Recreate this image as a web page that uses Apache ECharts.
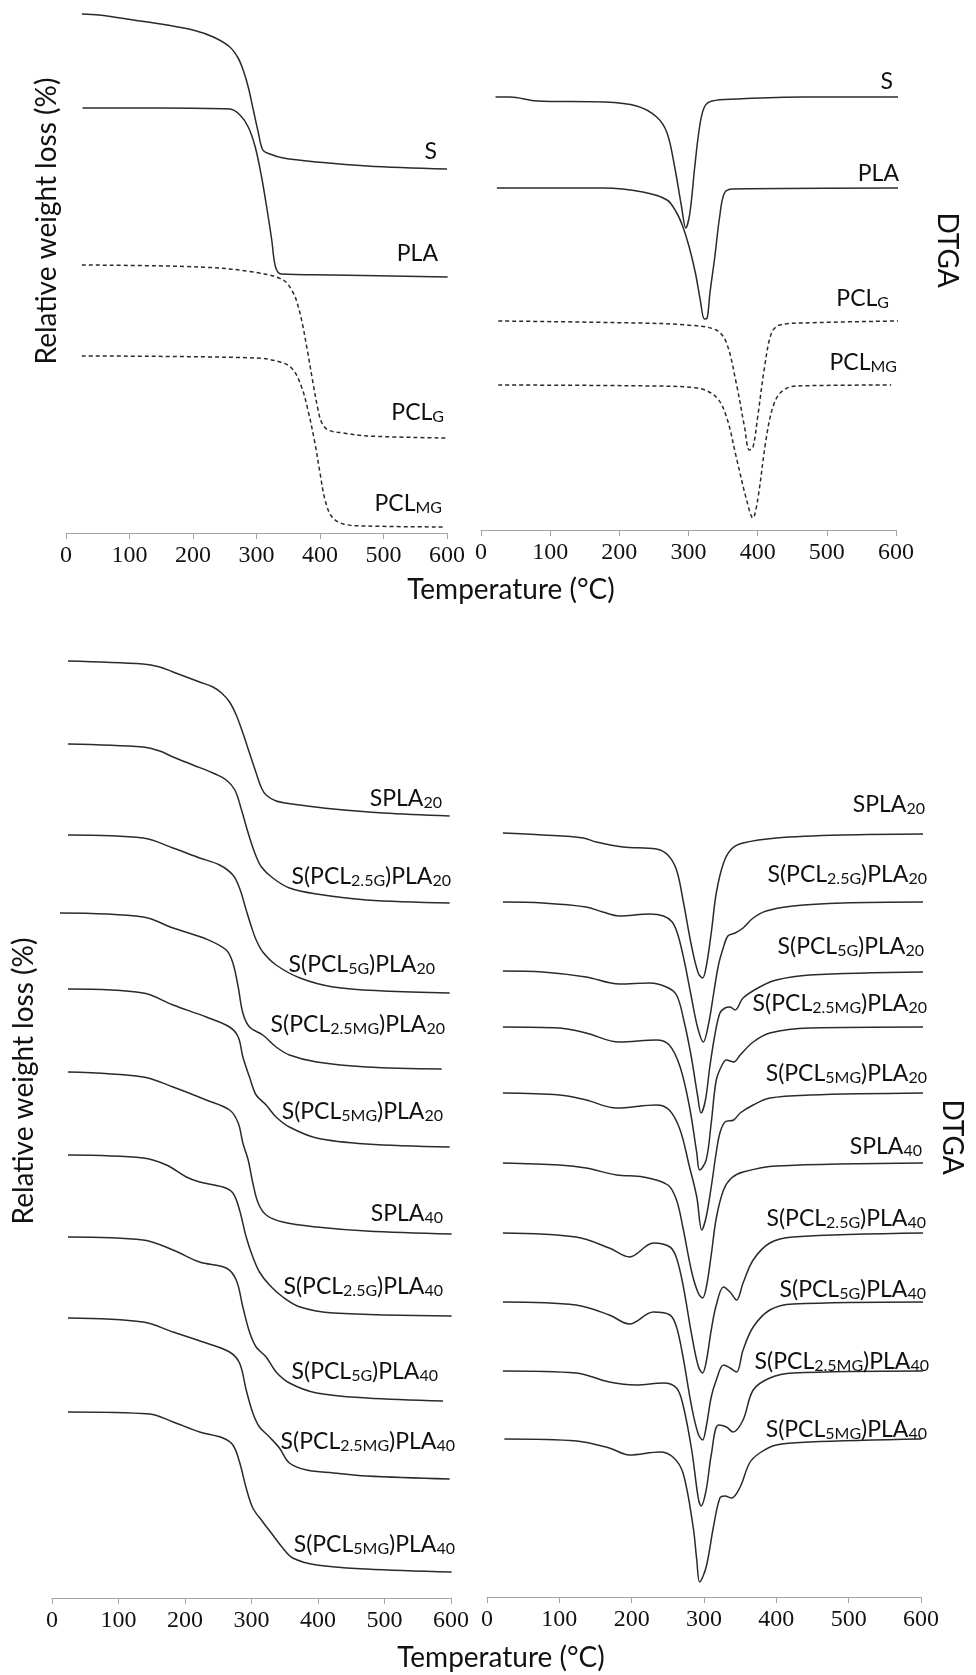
<!DOCTYPE html>
<html>
<head>
<meta charset="utf-8">
<script src="https://cdn.jsdelivr.net/npm/echarts@6/dist/echarts.min.js"></script>
<style>
html,body{margin:0;padding:0;background:#fff}
#chart{width:976px;height:1675px}
</style>
</head>
<body>
<div id="chart"></div>
<script>
// Temperature scale (°C) shared by all four panels
const TEMP_MIN = 0, TEMP_MAX = 600, TEMP_STEP = 100;

// ---- Upper left: TGA of the neat components, [T °C, stacked signal] ----
const TGA_S = [[25,519],[52,518],[106,513],[159,508],[200,503],[232,496],[258,486],[271,475],[279,463],[287,446],[295,423],[303,400],[310,383],[321,379],[342,375],[395,371],[474,367],[600,364]];
const TGA_PLA = [[26,425],[150,425],[258,424],[274,418],[287,406],[298,386],[308,356],[316,326],[324,293],[330,266],[339,259],[420,258],[601,256]];
const TGA_PCLG = [[25,268],[211,266],[295,261],[342,253],[358,240],[365,228],[372,210],[380,183],[389,150],[397,123],[403,110],[413,103],[437,100],[474,97],[600,95]];
const TGA_PCLMG = [[25,177],[300,175],[342,170],[358,163],[371,146],[381,123],[392,90],[400,60],[408,33],[419,16],[437,9],[474,7],[597,6]];

// ---- Upper right: DTGA of the neat components ----
const DTG_S = [[21,433],[42,433],[81,429],[177,428],[225,424],[254,413],[269,397],[280,363],[290,323],[296,302],[302,317],[309,363],[316,403],[323,423],[334,429],[369,431],[465,433],[603,433]];
const DTG_PLA = [[23,342],[177,342],[234,338],[269,330],[283,317],[292,303],[301,283],[310,257],[317,230],[323,211],[327,212],[331,237],[338,273],[345,313],[352,337],[364,341],[606,342]];
const DTG_PCLG = [[25,209],[225,207],[297,205],[340,200],[355,187],[369,147],[381,103],[388,80],[393,82],[400,113],[410,163],[420,197],[432,205],[465,207],[603,209]];
const DTG_PCLMG = [[25,145],[249,144],[312,142],[340,133],[355,113],[369,73],[384,30],[393,12],[400,30],[412,90],[422,123],[434,138],[455,144],[593,145]];

// ---- Lower left: TGA of the blends ----
const TGA_SPLA20 = [[24,937],[137,934],[162,931],[182,926],[202,921],[222,916],[242,911],[255,905],[267,896],[277,883],[287,865],[297,845],[307,825],[315,810],[322,803],[337,797],[373,793],[423,789],[498,785],[598,782]];
const TGA_S_PCL25G_PLA20 = [[24,854],[137,851],[162,847],[182,841],[212,833],[242,825],[262,818],[275,808],[285,788],[295,765],[305,745],[315,731],[332,720],[357,710],[398,704],[473,698],[598,695]];
const TGA_S_PCL5G_PLA20 = [[24,763],[137,760],[182,750],[222,740],[252,733],[272,723],[282,710],[292,688],[300,671],[307,658],[317,646],[337,633],[373,620],[423,611],[498,607],[598,605]];
const TGA_S_PCL25MG_PLA20 = [[12,685],[137,681],[182,670],[232,659],[262,648],[272,635],[280,611],[287,585],[297,571],[317,563],[337,551],[357,543],[398,536],[473,531],[586,529]];
const TGA_S_PCL5MG_PLA20 = [[24,609],[137,605],[182,593],[232,581],[267,571],[280,561],[287,541],[297,521],[307,503],[322,493],[337,481],[357,471],[398,460],[473,454],[598,451]];
const TGA_SPLA40 = [[24,526],[137,521],[182,511],[232,498],[267,488],[280,475],[287,455],[295,438],[302,415],[310,395],[322,383],[347,376],[398,371],[473,367],[601,364]];
const TGA_S_PCL25G_PLA40 = [[24,443],[137,440],[172,433],[202,421],[222,416],[257,411],[272,405],[282,388],[292,361],[302,341],[312,326],[327,313],[347,301],[373,291],[423,285],[601,282]];
const TGA_S_PCL5G_PLA40 = [[24,361],[137,358],[182,348],[222,336],[262,330],[277,318],[287,291],[297,266],[307,251],[322,241],[337,226],[357,215],[398,205],[473,200],[588,197]];
const TGA_S_PCL25MG_PLA40 = [[24,280],[137,276],[182,266],[232,255],[267,246],[282,235],[292,208],[302,185],[312,171],[327,161],[342,150],[357,135],[383,128],[423,125],[473,122],[598,119]];
const TGA_S_PCL5MG_PLA40 = [[24,186],[147,184],[182,176],[222,166],[257,160],[272,153],[282,136],[292,110],[302,90],[317,76],[332,63],[347,50],[362,40],[398,33],[473,29],[601,26]];

// ---- Lower right: DTGA of the blends ----
const DTG_SPLA20 = [[22,764],[77,762],[133,759],[151,755],[188,750],[234,748],[250,742],[262,727],[271,697],[283,650],[292,624],[298,619],[303,630],[310,664],[317,704],[327,734],[338,748],[354,754],[400,759],[492,762],[606,763]];
const DTG_S_PCL25G_PLA20 = [[22,695],[77,694],[137,690],[160,685],[183,681],[225,683],[244,681],[256,675],[264,662],[273,635],[282,602],[291,570],[299,555],[306,572],[313,602],[320,632],[327,650],[333,661],[343,664],[354,669],[368,679],[386,686],[423,691],[492,694],[606,695]];
const DTG_S_PCL5G_PLA20 = [[22,626],[77,625],[137,620],[183,613],[225,614],[248,610],[262,602],[272,577],[282,542],[291,502],[296,484],[302,497],[308,530],[315,562],[322,584],[329,589],[336,590],[343,587],[354,599],[377,610],[400,617],[446,622],[606,625]];
const DTG_S_PCL25MG_PLA20 = [[22,570],[100,569],[137,564],[183,555],[234,557],[252,552],[267,530],[280,490],[290,444],[294,427],[303,437],[310,474],[317,517],[325,532],[331,537],[341,535],[350,542],[368,555],[391,564],[446,569],[608,570]];
const DTG_S_PCL5MG_PLA20 = [[22,504],[100,502],[137,497],[179,489],[234,492],[252,487],[267,467],[280,430],[290,400],[297,367],[303,380],[310,410],[317,445],[322,464],[329,475],[341,477],[350,484],[368,492],[391,499],[446,502],[608,504]];
const DTG_SPLA40 = [[22,434],[100,432],[137,429],[179,422],[216,420],[250,412],[262,397],[271,369],[283,325],[292,304],[298,299],[303,309],[310,342],[317,379],[327,407],[338,419],[354,425],[400,431],[608,434]];
const DTG_S_PCL25G_PLA40 = [[22,364],[123,360],[169,349],[197,340],[230,354],[253,350],[262,339],[271,312],[283,262],[292,231],[298,224],[303,235],[310,267],[317,292],[327,310],[336,305],[345,297],[354,314],[368,337],[391,354],[423,360],[608,364]];
const DTG_S_PCL5G_PLA40 = [[22,295],[123,292],[169,282],[197,273],[230,285],[253,282],[262,270],[271,240],[283,190],[292,163],[298,157],[303,170],[310,200],[317,217],[327,232],[336,229],[345,225],[354,247],[368,270],[391,287],[423,293],[608,295]];
const DTG_S_PCL25MG_PLA40 = [[22,226],[123,224],[169,215],[206,212],[244,214],[262,209],[271,192],[283,147],[292,99],[296,91],[303,107],[310,142],[320,172],[331,170],[340,165],[354,177],[368,207],[391,219],[423,224],[608,226]];
const DTG_S_PCL5MG_PLA40 = [[24,158],[124,156],[169,149],[197,142],[239,145],[257,140],[271,124],[285,70],[290,37],[294,15],[303,30],[313,70],[322,99],[329,101],[338,99],[350,110],[363,134],[377,144],[400,152],[446,155],[601,158]];

// Curve names (text after "_" in braces is set as subscript)
const NAMES_TOP = ['S', 'PLA', 'PCL_{G}', 'PCL_{MG}'];
const NAMES_BLENDS = ['SPLA_{20}', 'S(PCL_{2.5G})PLA_{20}', 'S(PCL_{5G})PLA_{20}', 'S(PCL_{2.5MG})PLA_{20}', 'S(PCL_{5MG})PLA_{20}',
  'SPLA_{40}', 'S(PCL_{2.5G})PLA_{40}', 'S(PCL_{5G})PLA_{40}', 'S(PCL_{2.5MG})PLA_{40}', 'S(PCL_{5MG})PLA_{40}'];

// Panel layout: grid boxes (px) and vertical extent of the stacked signal
const PANELS = [
  {left: 66,  top: 0,   width: 381, height: 533, ymax: 533},
  {left: 481, top: 0,   width: 415, height: 530, ymax: 530},
  {left: 52,  top: 598, width: 399, height: 1000, ymax: 1000},
  {left: 487, top: 597, width: 434, height: 1000, ymax: 1000}
];
// Label placement relative to each curve's right end at 600 °C: [dx, dy] px
const OFFSETS_TL = [[-10,-19],[-9,-25],[-3,-27],[-5,-25]];
const OFFSETS_TR = [[-3,-17],[3,-16],[-7,-24],[1,-24]];
const OFFSETS_BL = [[-9,-19],[0,-28],[-16,-30],[-6,-46],[-8,-37],[-8,-22],[-8,-31],[-13,-31],[4,-39],[4,-29]];
const OFFSETS_BR = [[4,-31],[6,-29],[3,-27],[6,-25],[6,-21],[1,-18],[5,-16],[5,-14],[8,-11],[6,-11]];

const INK = '#2a2a2a';
const AXIS_GREY = '#a6a6a6';
const TEXT_FONT = 'Lato, "Open Sans", sans-serif';

const RICH = {
  m: {fontFamily: TEXT_FONT, fontSize: 23, color: '#111', lineHeight: 27, verticalAlign: 'bottom'},
  s: {fontFamily: TEXT_FONT, fontSize: 16, color: '#111', lineHeight: 20, verticalAlign: 'bottom'}
};

function richText(name) {
  return name.split(/(_\{[^}]*\})/).filter(Boolean)
    .map(p => p.startsWith('_{') ? '{s|' + p.slice(2, -1) + '}' : '{m|' + p + '}')
    .join('');
}

function curve(panel, data, name, dashed, off) {
  const last = data[data.length - 1];
  return {
    type: 'line',
    name: name,
    xAxisIndex: panel,
    yAxisIndex: panel,
    data: data,
    symbol: 'none',
    showSymbol: false,
    smooth: 0.35,
    clip: false,
    silent: true,
    animation: false,
    lineStyle: {color: INK, width: 1.5, type: dashed ? [4, 3] : 'solid'},
    markPoint: {
      symbol: 'circle',
      symbolSize: 0.1,
      silent: true,
      animation: false,
      itemStyle: {color: 'rgba(0,0,0,0)'},
      data: [{
        coord: [TEMP_MAX, last[1]],
        label: {
          show: true, position: 'inside', align: 'right', verticalAlign: 'middle',
          offset: off, formatter: richText(name), rich: RICH
        }
      }]
    }
  };
}

const series = [
  curve(0, TGA_S, NAMES_TOP[0], false, OFFSETS_TL[0]),
  curve(0, TGA_PLA, NAMES_TOP[1], false, OFFSETS_TL[1]),
  curve(0, TGA_PCLG, NAMES_TOP[2], true, OFFSETS_TL[2]),
  curve(0, TGA_PCLMG, NAMES_TOP[3], true, OFFSETS_TL[3]),
  curve(1, DTG_S, NAMES_TOP[0], false, OFFSETS_TR[0]),
  curve(1, DTG_PLA, NAMES_TOP[1], false, OFFSETS_TR[1]),
  curve(1, DTG_PCLG, NAMES_TOP[2], true, OFFSETS_TR[2]),
  curve(1, DTG_PCLMG, NAMES_TOP[3], true, OFFSETS_TR[3])
];
const TGA_BLENDS = [TGA_SPLA20, TGA_S_PCL25G_PLA20, TGA_S_PCL5G_PLA20, TGA_S_PCL25MG_PLA20, TGA_S_PCL5MG_PLA20,
  TGA_SPLA40, TGA_S_PCL25G_PLA40, TGA_S_PCL5G_PLA40, TGA_S_PCL25MG_PLA40, TGA_S_PCL5MG_PLA40];
const DTG_BLENDS = [DTG_SPLA20, DTG_S_PCL25G_PLA20, DTG_S_PCL5G_PLA20, DTG_S_PCL25MG_PLA20, DTG_S_PCL5MG_PLA20,
  DTG_SPLA40, DTG_S_PCL25G_PLA40, DTG_S_PCL5G_PLA40, DTG_S_PCL25MG_PLA40, DTG_S_PCL5MG_PLA40];
TGA_BLENDS.forEach((d, i) => series.push(curve(2, d, NAMES_BLENDS[i], false, OFFSETS_BL[i])));
DTG_BLENDS.forEach((d, i) => series.push(curve(3, d, NAMES_BLENDS[i], false, OFFSETS_BR[i])));

const grid = PANELS.map(p => ({left: p.left, top: p.top, width: p.width, height: p.height, containLabel: false}));
const xAxis = PANELS.map((p, i) => ({
  gridIndex: i, type: 'value', min: TEMP_MIN, max: TEMP_MAX, interval: TEMP_STEP,
  axisLine: {show: true, onZero: false, lineStyle: {color: AXIS_GREY, width: 1}},
  axisTick: {show: true, inside: false, length: 6, lineStyle: {color: AXIS_GREY, width: 1}},
  axisLabel: {show: true, margin: 11, color: '#111', fontFamily: '"Liberation Serif", "Times New Roman", serif', fontSize: 24},
  splitLine: {show: false}
}));
const yAxis = PANELS.map((p, i) => ({gridIndex: i, type: 'value', min: 0, max: p.ymax, show: false}));

function title(text, x, y, rot) {
  return {
    type: 'text', x: x, y: y, rotation: rot, silent: true,
    style: {text: text, fontFamily: TEXT_FONT, fontSize: 28, fill: '#111', align: 'center', verticalAlign: 'middle'}
  };
}

const chart = echarts.init(document.getElementById('chart'), null, {renderer: 'canvas'});
chart.setOption({
  backgroundColor: '#fff',
  animation: false,
  grid: grid,
  xAxis: xAxis,
  yAxis: yAxis,
  series: series,
  graphic: [
    title('Relative weight loss (%)', 47, 221, Math.PI / 2),
    title('Relative weight loss (%)', 24, 1081, Math.PI / 2),
    title('Temperature (°C)', 511, 590, 0),
    title('Temperature (°C)', 501, 1658, 0),
    title('DTGA', 947, 250, -Math.PI / 2),
    title('DTGA', 952, 1137, -Math.PI / 2)
  ]
});
</script>
</body>
</html>
